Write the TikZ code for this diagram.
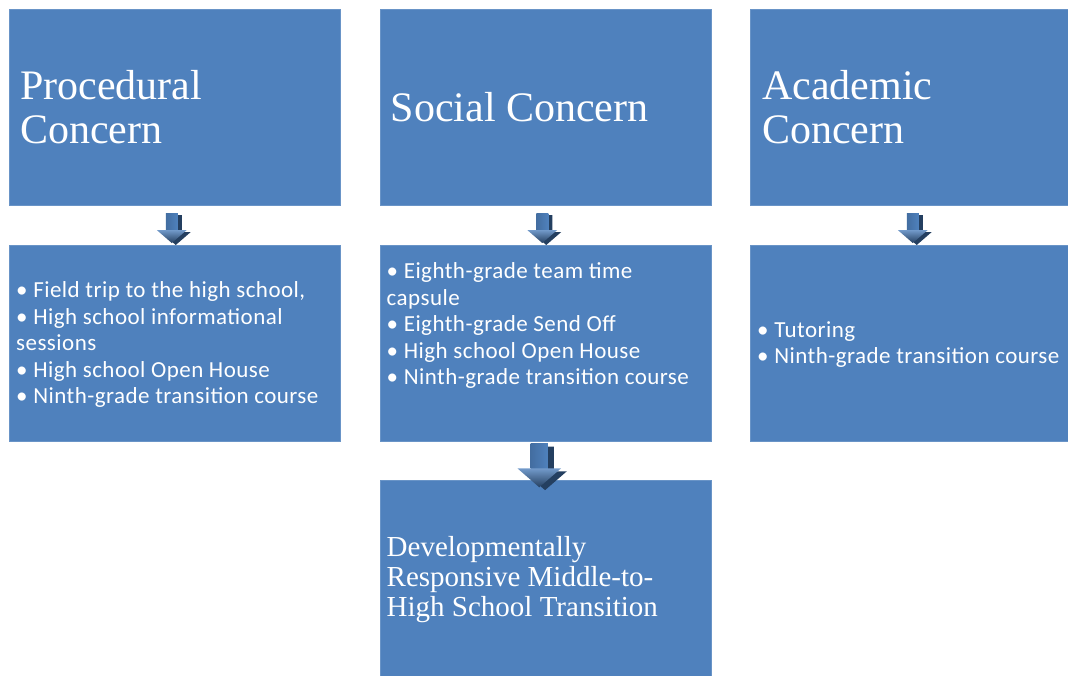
\documentclass[tikz,border=0pt]{standalone}
\usepackage{fontspec}
\usepackage{tikz}
\usetikzlibrary{positioning}
\usetikzlibrary{calc}
\newfontfamily\headfont{Liberation Serif}
\newfontfamily\itemfont[LetterSpace=2]{Carlito}
\definecolor{boxblue}{HTML}{4F81BD}
\definecolor{arrowdark}{HTML}{243F60}
\tikzset{panel/.style={fill=boxblue,draw=boxblue!85!white,line width=0.5pt,minimum width=331pt,minimum height=196pt,inner sep=0pt}}
\tikzset{heading/.style={text=white,font=\headfont\fontsize{42}{44}\selectfont,align=left,inner sep=0pt,anchor=west}}
\tikzset{items/.style={text=white,font=\itemfont\fontsize{23}{26.5}\selectfont,align=left,inner sep=0pt,anchor=west}}
\tikzset{downarrow/.pic={
  \fill[arrowdark,shift={(4,2)}] (-6,-15) -- (6,-15) -- (6,2) -- (15,2) -- (0,15) -- (-15,2) -- (-6,2) -- cycle;
  \shade[left color=boxblue!85!black,middle color=boxblue!45!white,right color=boxblue] (-6,-15) rectangle (6,2);
  \shade[top color=boxblue!80!white,bottom color=arrowdark] (-15,2) -- (15,2) -- (0,15) -- cycle;
}}

\begin{document}
\begin{tikzpicture}[x=1pt,y=-1pt,node distance=39pt]
\useasboundingbox (0,0) rectangle (1068,675);
% top row
\node [panel,anchor=north west] (proc) at (9,9) {};
\node [panel,right=of proc] (soc) {};
\node [panel,right=of soc] (acad) {};
% second row
\node [panel,below=of proc] (procl) {};
\node [panel,below=of soc] (socl) {};
\node [panel,below=of acad] (acadl) {};
% result
\node [panel,below=of socl] (dev) {};

\node [heading] (proct) at ([xshift=11pt]proc.west) {Procedural\\Concern};
\node [heading] (soct) at ([xshift=11pt]soc.west) {Social Concern};
\node [heading] (acadt) at ([xshift=12pt]acad.west) {Academic\\Concern};
\node [heading,font=\headfont\fontsize{29}{30}\selectfont] (devt) at ([xshift=7pt,yshift=-1pt]dev.west)
  {Developmentally\\Responsive Middle-to-\\High School Transition};

\node [items] (procit) at ([xshift=7pt,yshift=-2pt]procl.west)
  {• Field trip to the high school,\\• High school informational\\sessions\\• High school Open House\\• Ninth-grade transition course};
\node [items,anchor=north west] (socit) at ([shift={(7,18)}]socl.north west)
  {• Eighth-grade team time\\capsule\\• Eighth-grade Send Off\\• High school Open House\\• Ninth-grade transition course};
\node [items] (acadit) at ([xshift=7pt,yshift=-2pt]acadl.west)
  {• Tutoring\\• Ninth-grade transition course};

% arrows
\path ($(proc.south)!0.5!(procl.north)+(-3,3)$) pic {downarrow};
\path ($(soc.south)!0.5!(socl.north)+(-3,3)$) pic {downarrow};
\path ($(acad.south)!0.5!(acadl.north)+(-3,3)$) pic {downarrow};
\path ($(socl.south)!0.5!(dev.north)+(-6,5)$) pic[scale=1.45] {downarrow};
\end{tikzpicture}
\end{document}
